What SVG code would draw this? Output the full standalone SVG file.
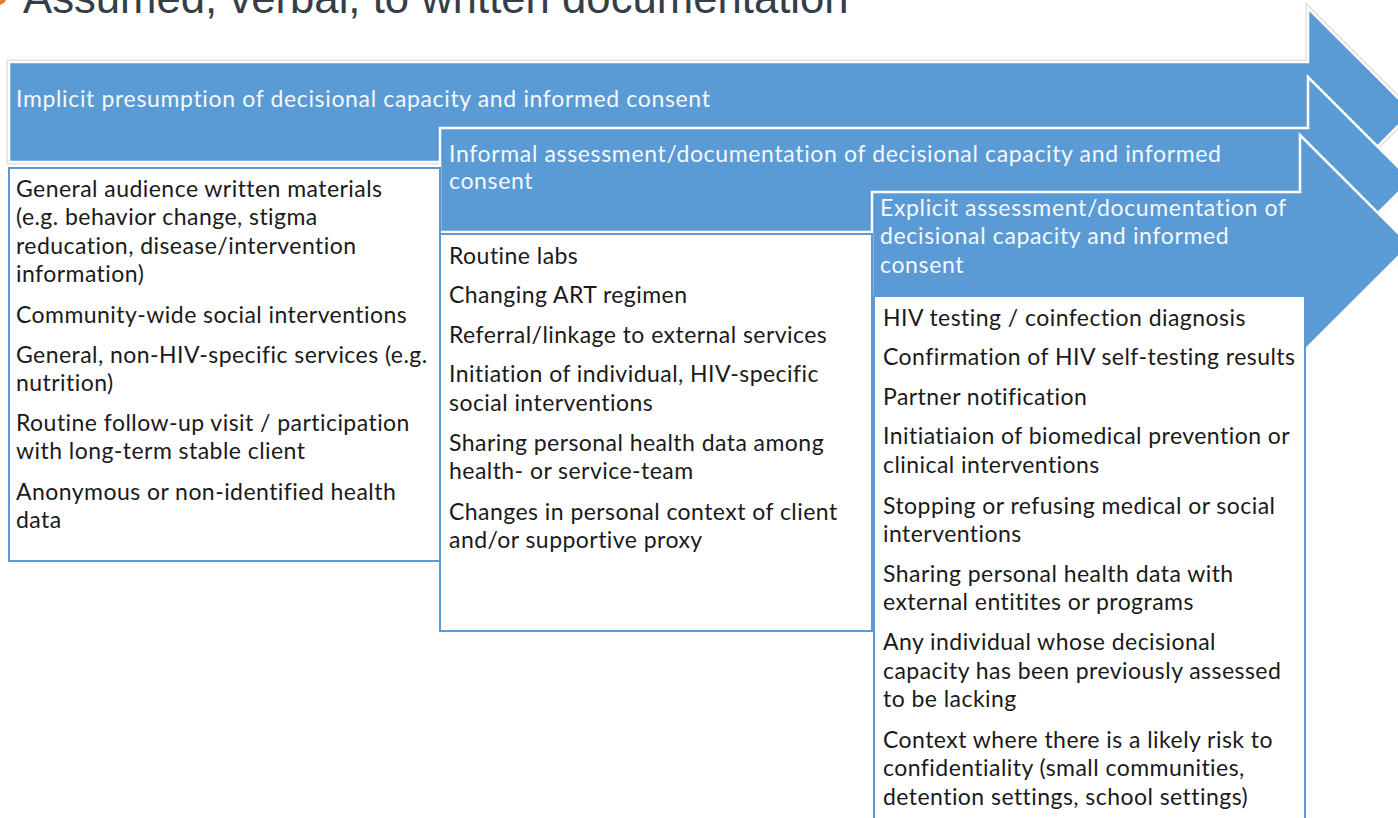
<svg xmlns="http://www.w3.org/2000/svg" width="1398" height="818" viewBox="0 0 1398 818">
<style>
.arrow{fill:#5B9BD5;stroke:#ffffff;stroke-width:2.5}
.arrowo{fill:none;stroke:#dcdcdc;stroke-width:5}
.box{fill:#ffffff;stroke:#5B9BD5;stroke-width:2}
.hd{font-family:Lato,"Open Sans",sans-serif;font-size:23px;letter-spacing:0.65px;fill:#f4f8fc}
.tx{font-family:Lato,"Open Sans",sans-serif;font-size:23px;letter-spacing:0.45px;fill:#1a1a1a}
.title{font-family:"Liberation Sans",Arial,sans-serif;font-size:43.7px;fill:#343e48}
</style>
<rect width="1398" height="818" fill="#ffffff"/>
<g id="title">
<path d="M0,0 L6,0 Q5,3 0,5 Z" fill="#E07B2A"/>
<text class="title" x="23" y="13">Assumed, verbal, to written documentation</text>
</g>
<g id="arrow1">
<polygon class="arrowo" points="9,62 1308,62 1308,8 1412,112 1308,216 1308,162 9,162"/>
<polygon class="arrow" points="9,62 1308,62 1308,8 1412,112 1308,216 1308,162 9,162"/>
<text class="hd" x="16" y="107">Implicit presumption of decisional capacity and informed consent</text>
</g>
<g id="arrow2">
<polygon class="arrow" points="440,128 1308,128 1308,77 1411,180 1308,283 1308,232 440,232"/>
<text class="hd" x="449" y="162">Informal assessment/documentation of decisional capacity and informed</text>
<text class="hd" x="449" y="189">consent</text>
</g>
<g id="arrow3">
<polygon class="arrow" points="872,192 1300,192 1300,135 1410,245 1300,355 1300,298 872,298"/>
<text class="hd" x="880" y="216">Explicit assessment/documentation of</text>
<text class="hd" x="880" y="244">decisional capacity and informed</text>
<text class="hd" x="880" y="273">consent</text>
</g>
<g id="box1">
<rect class="box" x="9" y="168" width="431" height="393"/>
<text class="tx" x="16" y="197">General audience written materials</text>
<text class="tx" x="16" y="225">(e.g. behavior change, stigma</text>
<text class="tx" x="16" y="254">reducation, disease/intervention</text>
<text class="tx" x="16" y="282">information)</text>
<text class="tx" x="16" y="323">Community-wide social interventions</text>
<text class="tx" x="16" y="363">General, non-HIV-specific services (e.g.</text>
<text class="tx" x="16" y="391">nutrition)</text>
<text class="tx" x="16" y="431">Routine follow-up visit / participation</text>
<text class="tx" x="16" y="459">with long-term stable client</text>
<text class="tx" x="16" y="500">Anonymous or non-identified health</text>
<text class="tx" x="16" y="528">data</text>
</g>
<g id="box2">
<rect class="box" x="440" y="234" width="432" height="397"/>
<text class="tx" x="449" y="264">Routine labs</text>
<text class="tx" x="449" y="303">Changing ART regimen</text>
<text class="tx" x="449" y="343">Referral/linkage to external services</text>
<text class="tx" x="449" y="382">Initiation of individual, HIV-specific</text>
<text class="tx" x="449" y="411">social interventions</text>
<text class="tx" x="449" y="451">Sharing personal health data among</text>
<text class="tx" x="449" y="479">health- or service-team</text>
<text class="tx" x="449" y="520">Changes in personal context of client</text>
<text class="tx" x="449" y="548">and/or supportive proxy</text>
</g>
<g id="box3">
<rect class="box" x="874" y="296" width="431" height="530"/>
<text class="tx" x="883" y="326">HIV testing / coinfection diagnosis</text>
<text class="tx" x="883" y="365">Confirmation of HIV self-testing results</text>
<text class="tx" x="883" y="405">Partner notification</text>
<text class="tx" x="883" y="444">Initiatiaion of biomedical prevention or</text>
<text class="tx" x="883" y="473">clinical interventions</text>
<text class="tx" x="883" y="514">Stopping or refusing medical or social</text>
<text class="tx" x="883" y="542">interventions</text>
<text class="tx" x="883" y="582">Sharing personal health data with</text>
<text class="tx" x="883" y="610">external entitites or programs</text>
<text class="tx" x="883" y="650">Any individual whose decisional</text>
<text class="tx" x="883" y="679">capacity has been previously assessed</text>
<text class="tx" x="883" y="707">to be lacking</text>
<text class="tx" x="883" y="748">Context where there is a likely risk to</text>
<text class="tx" x="883" y="776">confidentiality (small communities,</text>
<text class="tx" x="883" y="805">detention settings, school settings)</text>
</g>
</svg>
